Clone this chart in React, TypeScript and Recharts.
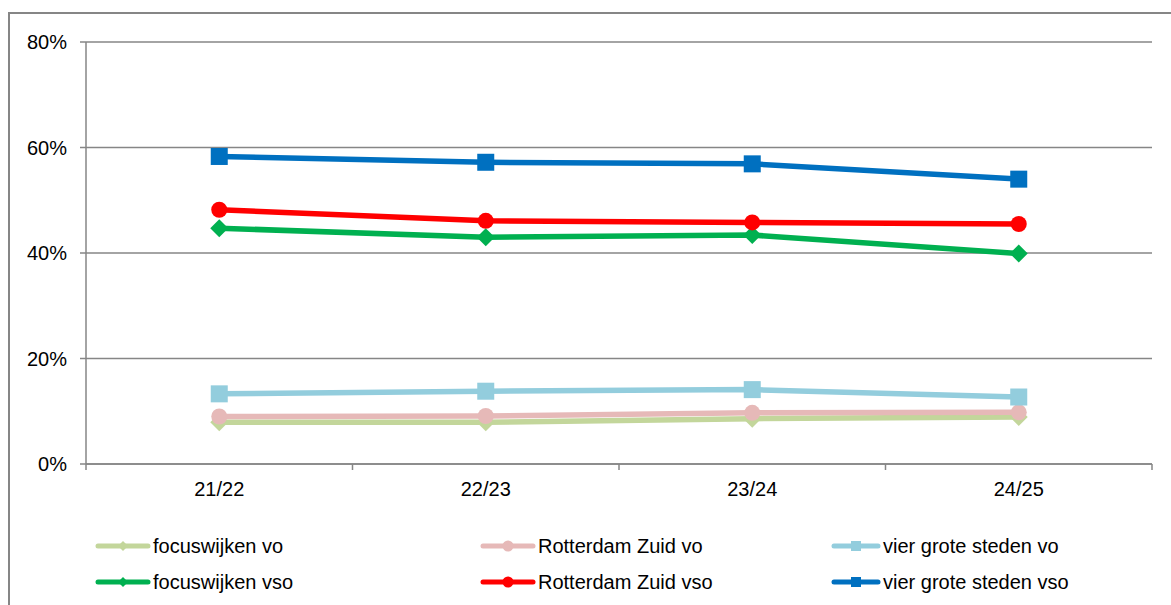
import { LineChart, Line, XAxis, YAxis, CartesianGrid } from 'recharts';

const categories = ['21/22', '22/23', '23/24', '24/25'];
const focusVo = [7.9, 7.9, 8.6, 8.9];
const zuidVo = [9.0, 9.1, 9.7, 9.8];
const g4Vo = [13.3, 13.8, 14.1, 12.7];
const focusVso = [44.7, 43.0, 43.4, 39.9];
const zuidVso = [48.2, 46.1, 45.8, 45.5];
const g4Vso = [58.3, 57.2, 56.9, 54.0];
const yTicks = [0, 20, 40, 60, 80];

const FONT = '"Liberation Sans", Arial, sans-serif';
const AXIS = '#868686';

type Shape = 'diamond' | 'circle' | 'square';

const series: { key: string; name: string; values: number[]; color: string; shape: Shape }[] = [
  { key: 'focusVo', name: 'focuswijken vo', values: focusVo, color: '#C3D69B', shape: 'diamond' },
  { key: 'zuidVo', name: 'Rotterdam Zuid vo', values: zuidVo, color: '#E6B9B8', shape: 'circle' },
  { key: 'g4Vo', name: 'vier grote steden vo', values: g4Vo, color: '#93CDDD', shape: 'square' },
  { key: 'focusVso', name: 'focuswijken vso', values: focusVso, color: '#00B050', shape: 'diamond' },
  { key: 'zuidVso', name: 'Rotterdam Zuid vso', values: zuidVso, color: '#FF0000', shape: 'circle' },
  { key: 'g4Vso', name: 'vier grote steden vso', values: g4Vso, color: '#0070C0', shape: 'square' },
];

const data = categories.map((c, i) => {
  const row: Record<string, any> = { x: i + 0.5, label: c };
  series.forEach((s) => (row[s.key] = s.values[i]));
  return row;
});

// ticks at band edges (integers) and label spots (halves)
const xTicks = Array.from({ length: categories.length * 2 + 1 }, (_, k) => k / 2);

function marker(shape: Shape, cx: number, cy: number, size: number, color: string, key?: any) {
  const h = size / 2;
  if (shape === 'circle') return <circle key={key} cx={cx} cy={cy} r={h} fill={color} />;
  if (shape === 'square')
    return <rect key={key} x={cx - h} y={cy - h} width={size} height={size} fill={color} />;
  return (
    <polygon
      key={key}
      points={`${cx},${cy - h} ${cx + h},${cy} ${cx},${cy + h} ${cx - h},${cy}`}
      fill={color}
    />
  );
}

const sizes: Record<Shape, number> = { circle: 16, square: 17, diamond: 18 };

const XTick = ({ x, y, payload }: any) => {
  const v = payload.value;
  const axisY = y - 6;
  if (Number.isInteger(v)) {
    return <line x1={x} x2={x} y1={axisY} y2={axisY + 6} stroke={AXIS} strokeWidth={1.5} />;
  }
  return (
    <text x={x} y={axisY + 32} textAnchor="middle" fontSize={20} fontFamily={FONT} fill="#000">
      {categories[v - 0.5]}
    </text>
  );
};

// legend: icon start, icon width per column; row centres
const legendCols = [
  { left: 95, icon: 56 },
  { left: 480, icon: 56 },
  { left: 831, icon: 50 },
];
const legendRows = [546, 582];

export default function App() {
  return (
    <div
      style={{
        position: 'absolute',
        left: 0,
        top: 0,
        width: 1171,
        height: 605,
        overflow: 'hidden',
        background: '#fff',
      }}
    >
      <div
        style={{
          position: 'absolute',
          left: 8,
          top: 12,
          width: 1200,
          height: 650,
          border: `2px solid ${AXIS}`,
        }}
      />
      <div style={{ position: 'absolute', left: 0, top: 0 }}>
        <LineChart
          width={1171}
          height={605}
          data={data}
          margin={{ top: 42, right: 19, bottom: 111, left: 26 }}
        >
          <CartesianGrid vertical={false} stroke={AXIS} strokeWidth={1.5} />
          <XAxis
            dataKey="x"
            type="number"
            domain={[0, categories.length]}
            ticks={xTicks}
            interval={0}
            height={30}
            tickLine={false}
            tickSize={6}
            tickMargin={0}
            axisLine={{ stroke: AXIS, strokeWidth: 1.5 }}
            tick={<XTick />}
          />
          <YAxis
            width={60}
            domain={[0, 80]}
            ticks={yTicks}
            interval={0}
            tickFormatter={(v) => `${v}%`}
            tickSize={6}
            tickMargin={13}
            tickLine={{ stroke: AXIS, strokeWidth: 1.5 }}
            axisLine={{ stroke: AXIS, strokeWidth: 1.5 }}
            tick={{ fontSize: 20, fontFamily: FONT, fill: '#000' }}
          />
          {series.map((s) => (
            <Line
              key={s.key}
              dataKey={s.key}
              name={s.name}
              stroke={s.color}
              strokeWidth={5.5}
              isAnimationActive={false}
              dot={(p: any) => marker(s.shape, p.cx, p.cy, sizes[s.shape], s.color, p.index)}
              activeDot={false}
            />
          ))}
        </LineChart>
      </div>
      {series.map((s, i) => {
        const col = legendCols[i % 3];
        const cy = legendRows[Math.floor(i / 3)];
        return (
          <div
            key={s.key}
            style={{
              position: 'absolute',
              left: col.left,
              top: cy - 14,
              height: 28,
              display: 'flex',
              alignItems: 'center',
              fontFamily: FONT,
              fontSize: 20,
              color: '#000',
              whiteSpace: 'nowrap',
            }}
          >
            <svg width={col.icon} height={20} style={{ marginRight: 2 }}>
              <line
                x1={3}
                x2={col.icon - 3}
                y1={10}
                y2={10}
                stroke={s.color}
                strokeWidth={5}
                strokeLinecap="round"
              />
              {marker(s.shape, col.icon / 2, 10, s.shape === 'circle' ? 11 : 10, s.color)}
            </svg>
            <span>{s.name}</span>
          </div>
        );
      })}
    </div>
  );
}
